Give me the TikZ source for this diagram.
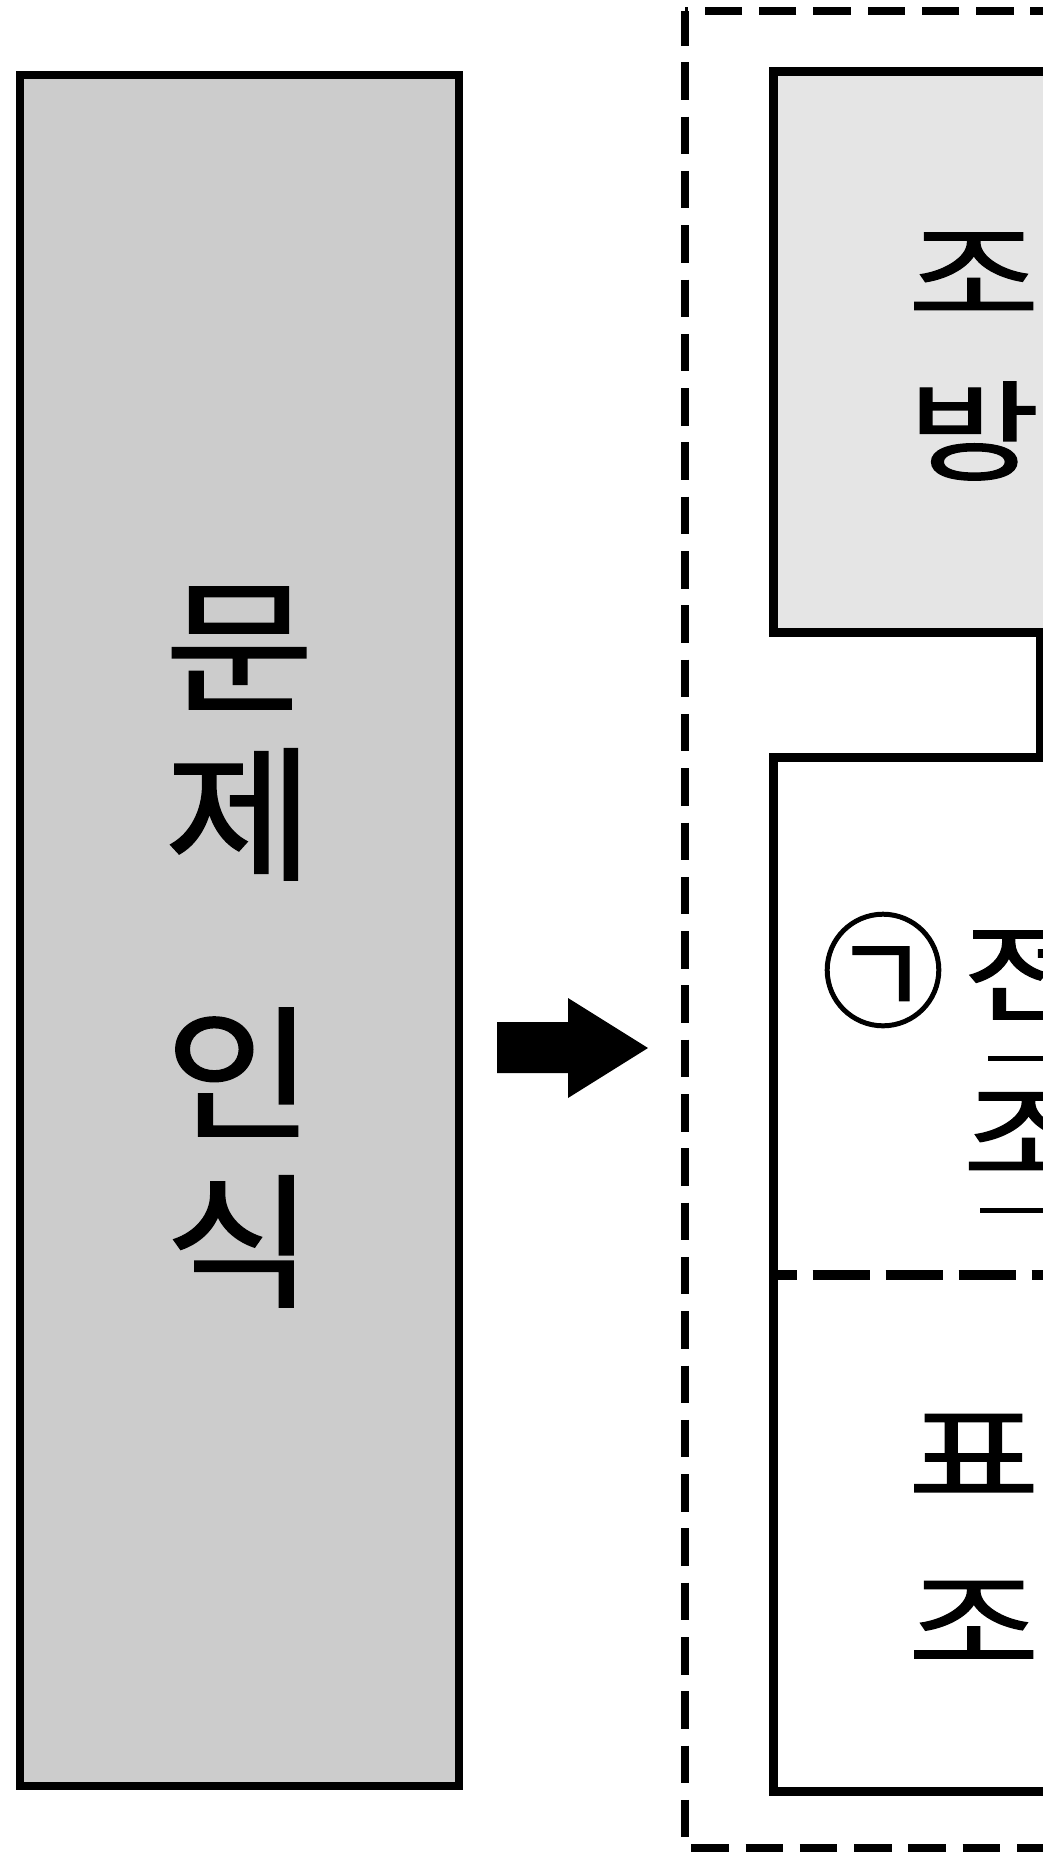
\documentclass[tikz,border=0pt]{standalone}
\usepackage{fontspec}
\newfontfamily\krwide[FakeStretch=1.32,FakeBold=1.2]{Noto Sans CJK KR}
\newfontfamily\krtall[FakeStretch=1.12,FakeBold=1.2]{Noto Sans CJK KR}
\newfontfamily\krplain[FakeBold=0.8]{Noto Sans CJK KR}
\definecolor{leftgray}{gray}{0.8}
\definecolor{topgray}{gray}{0.9}
\tikzset{
  box/.style={draw, line width=4.5pt, inner sep=0pt, minimum width=266.3pt},
  link/.style={line width=4.5pt},
  groupdash/.style={line width=4.4pt, dash pattern=on 18.75pt off 8.4pt, dash phase=1.5pt},
  splitdash/.style={line width=4.8pt, dash pattern=on 28.5pt off 8pt, dash phase=14.75pt},
  word/.style={inner sep=0pt, align=center, font=\krwide\fontsize{54.5}{83.5}\selectfont},
  uline/.style={line width=2.5pt},
}
\begin{document}
\begin{tikzpicture}[x=0.5pt,y=-0.5pt]
    \useasboundingbox (0,0) rectangle (1043,1853);
    \clip (0,0) rectangle (1043,1853);
    %left box
    \node[box, line width=4pt, fill=leftgray, minimum width=219.7pt, minimum height=855.35pt] (problem) at (239.3,930.65) {};
    \node[inner sep=0pt, align=center, font=\krtall\fontsize{72.5}{84}\selectfont] (problemtext) at (239.3,947) {문\\제\\[45.5pt]인\\식};
    %arrow
    \fill (497,1022) -- (568,1022) -- (568,998) -- (648,1048) -- (568,1098) -- (568,1073) -- (497,1073) -- cycle;
    %group
    \draw[groupdash] (685,11) -- (685,1848) -- (1400,1848) -- (1400,11) -- cycle;
    \node[box, fill=topgray, minimum height=280.1pt, align=center, font=\krwide\fontsize{54.5}{79}\selectfont] (method) at (1040,352) {조사\\방법};
    \node[box, minimum height=516.75pt] (survey) at (1040,1274.25) {};
    \draw[link] (method.south) -- (survey.north);
    \coordinate (split) at (1040,1275);
    \draw[splitdash] (survey.west |- split) -- (survey.east |- split);
    %census
    \node[inner sep=0pt, font=\krplain\fontsize{62}{62}\selectfont] (mark) at (883,970) {㉠};
    \node[word, anchor=west] (censusA) at (962,972) {전수};
    \node[word, anchor=west] (censusB) at (962,1133) {조사};
    \draw[uline] (988,1058) -- (censusA.east |- 988,1058);
    \draw[uline] (980,1210) -- (censusB.east |- 980,1210);
    %sample
    \node[word] (sample) at (1040,1540) {표본\\조사};
\end{tikzpicture}
\end{document}
